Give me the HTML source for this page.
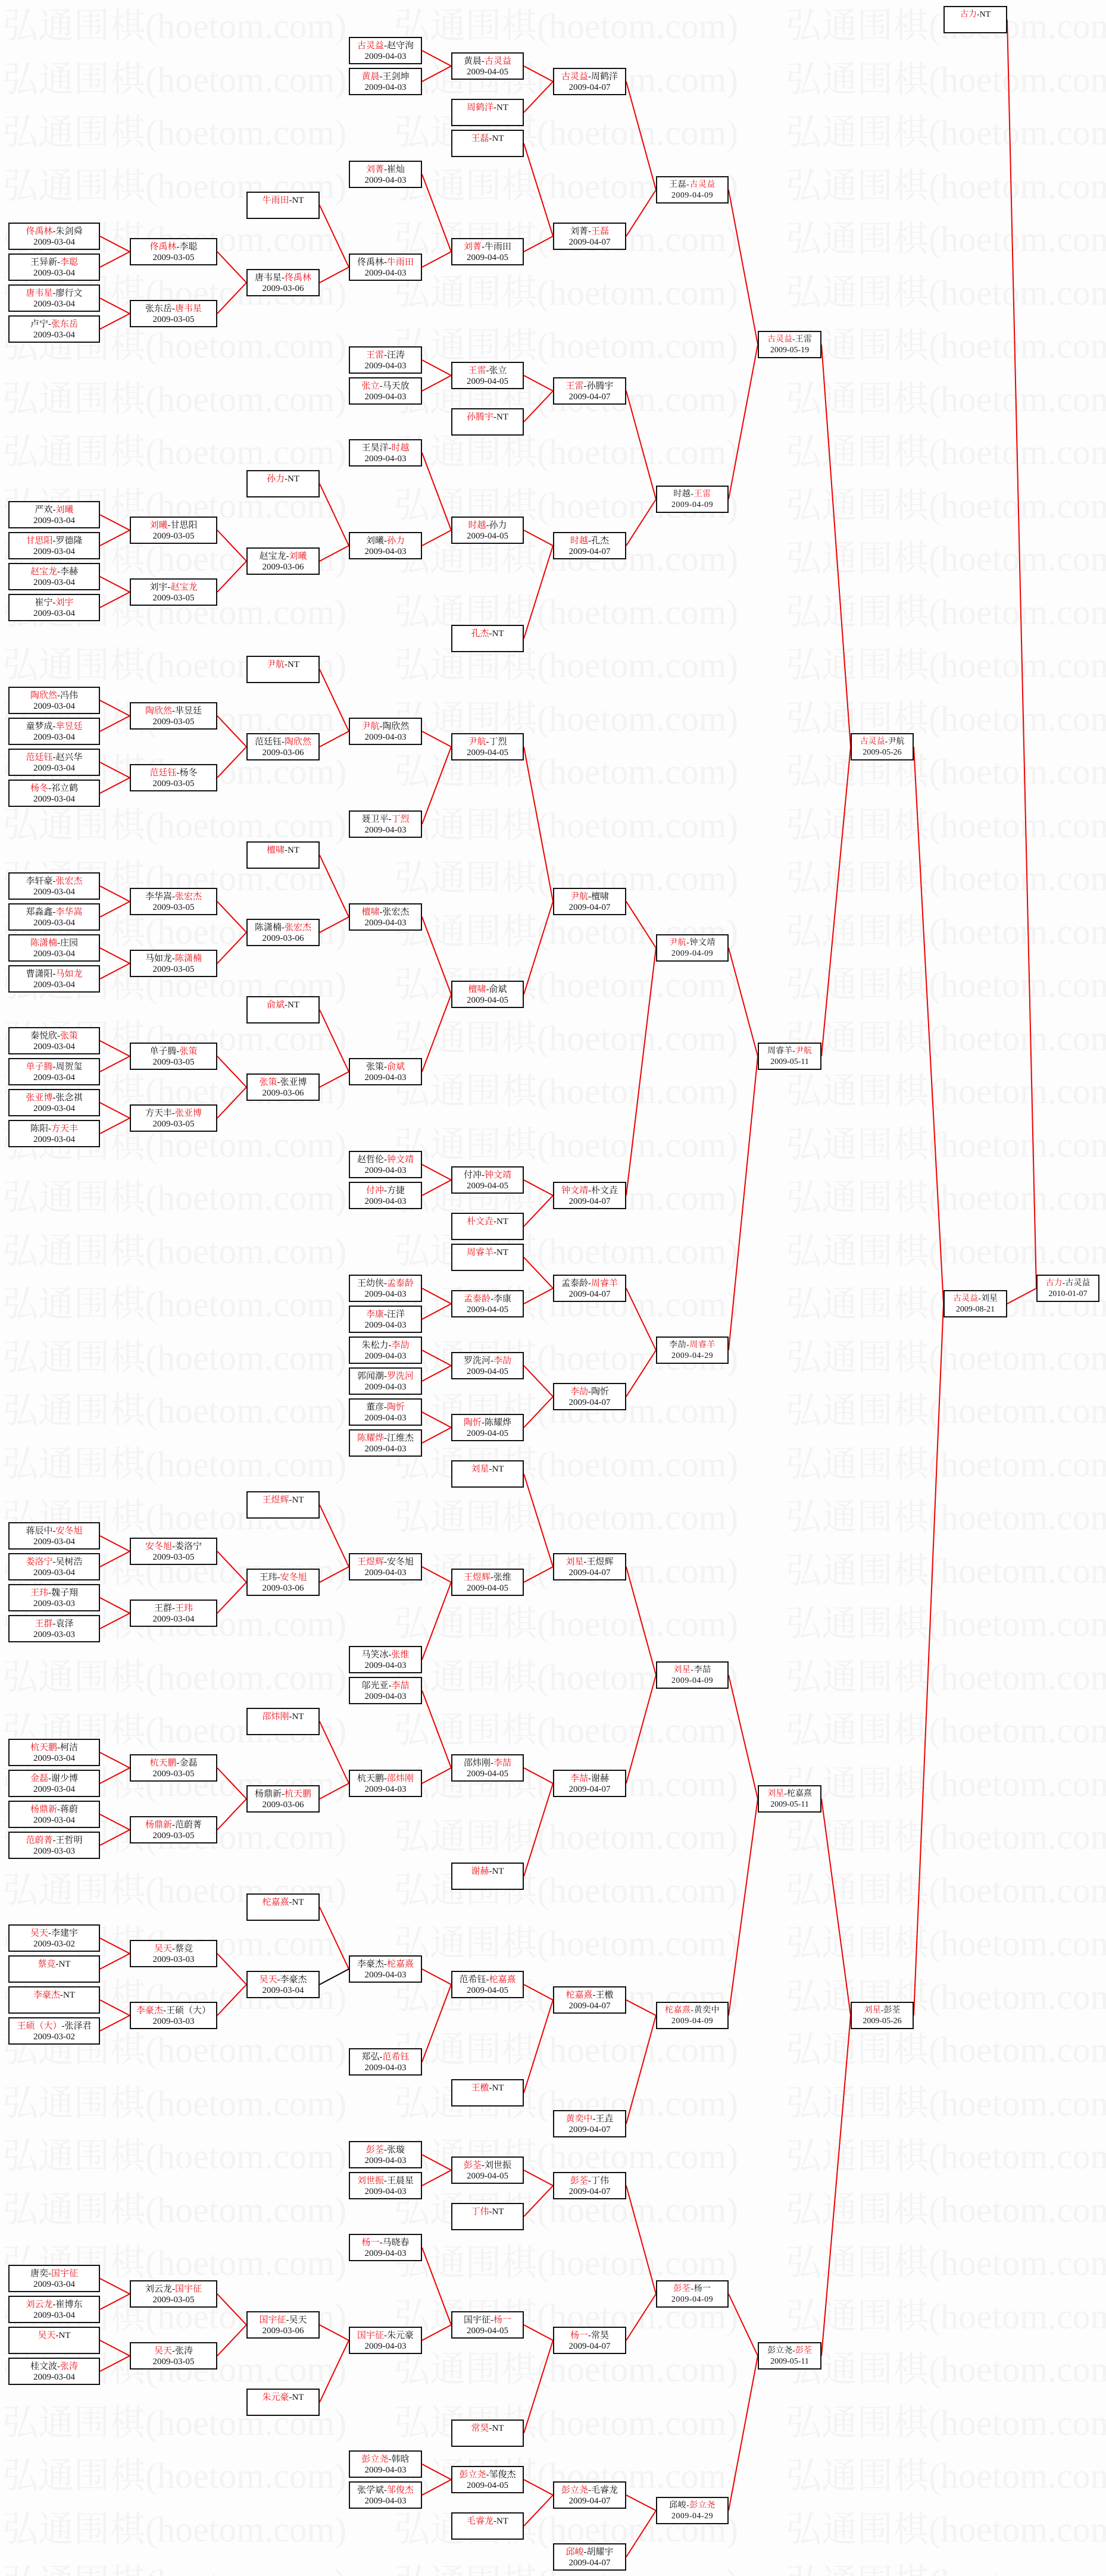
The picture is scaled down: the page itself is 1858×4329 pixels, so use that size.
<!DOCTYPE html>
<html><head><meta charset="utf-8">
<style>
html,body{margin:0;padding:0;}
body{width:1858px;height:4329px;position:relative;background:#fdfdfd;overflow:hidden;font-family:"Liberation Serif","Noto Serif CJK SC",serif;}
.wm{position:absolute;left:0;top:0;width:1858px;height:4329px;overflow:hidden;color:#f3f3f3;font-family:"Liberation Serif","Noto Serif CJK SC",serif;font-size:60px;line-height:89.5px;white-space:nowrap;}
.wm div{height:89.5px;margin-left:4px}
.wm span{display:inline-block;width:658px}
svg{position:absolute;left:0;top:0}
.b{position:absolute;height:46px;top:calc(62px + var(--k)*26px);border:2px solid #111;background:#fff;box-sizing:border-box;text-align:center;font-size:15px;line-height:18px;padding-top:4px;color:#111;white-space:nowrap;overflow:hidden;}
.r{color:#e8141c}
.c0{left:14px;width:154px}.c1{left:218px;width:147px}.c2{left:414px;width:123px}.c3{left:586px;width:123px}.c4{left:758px;width:122px}.c5{left:929px;width:123px}.c6{left:1102px;width:122px;font-size:14px;letter-spacing:.5px}.c7{left:1273px;width:107px;font-size:14px}.c8{left:1429px;width:106px;font-size:14px}.c9{left:1585px;width:107px;font-size:14px}.c10{left:1741px;width:106px;font-size:14px}
</style></head><body>
<div class="wm">
<div><span>弘通围棋(hoetom.com)</span><span>弘通围棋(hoetom.com)</span><span>弘通围棋(hoetom.com)</span></div>
<div><span>弘通围棋(hoetom.com)</span><span>弘通围棋(hoetom.com)</span><span>弘通围棋(hoetom.com)</span></div>
<div><span>弘通围棋(hoetom.com)</span><span>弘通围棋(hoetom.com)</span><span>弘通围棋(hoetom.com)</span></div>
<div><span>弘通围棋(hoetom.com)</span><span>弘通围棋(hoetom.com)</span><span>弘通围棋(hoetom.com)</span></div>
<div><span>弘通围棋(hoetom.com)</span><span>弘通围棋(hoetom.com)</span><span>弘通围棋(hoetom.com)</span></div>
<div><span>弘通围棋(hoetom.com)</span><span>弘通围棋(hoetom.com)</span><span>弘通围棋(hoetom.com)</span></div>
<div><span>弘通围棋(hoetom.com)</span><span>弘通围棋(hoetom.com)</span><span>弘通围棋(hoetom.com)</span></div>
<div><span>弘通围棋(hoetom.com)</span><span>弘通围棋(hoetom.com)</span><span>弘通围棋(hoetom.com)</span></div>
<div><span>弘通围棋(hoetom.com)</span><span>弘通围棋(hoetom.com)</span><span>弘通围棋(hoetom.com)</span></div>
<div><span>弘通围棋(hoetom.com)</span><span>弘通围棋(hoetom.com)</span><span>弘通围棋(hoetom.com)</span></div>
<div><span>弘通围棋(hoetom.com)</span><span>弘通围棋(hoetom.com)</span><span>弘通围棋(hoetom.com)</span></div>
<div><span>弘通围棋(hoetom.com)</span><span>弘通围棋(hoetom.com)</span><span>弘通围棋(hoetom.com)</span></div>
<div><span>弘通围棋(hoetom.com)</span><span>弘通围棋(hoetom.com)</span><span>弘通围棋(hoetom.com)</span></div>
<div><span>弘通围棋(hoetom.com)</span><span>弘通围棋(hoetom.com)</span><span>弘通围棋(hoetom.com)</span></div>
<div><span>弘通围棋(hoetom.com)</span><span>弘通围棋(hoetom.com)</span><span>弘通围棋(hoetom.com)</span></div>
<div><span>弘通围棋(hoetom.com)</span><span>弘通围棋(hoetom.com)</span><span>弘通围棋(hoetom.com)</span></div>
<div><span>弘通围棋(hoetom.com)</span><span>弘通围棋(hoetom.com)</span><span>弘通围棋(hoetom.com)</span></div>
<div><span>弘通围棋(hoetom.com)</span><span>弘通围棋(hoetom.com)</span><span>弘通围棋(hoetom.com)</span></div>
<div><span>弘通围棋(hoetom.com)</span><span>弘通围棋(hoetom.com)</span><span>弘通围棋(hoetom.com)</span></div>
<div><span>弘通围棋(hoetom.com)</span><span>弘通围棋(hoetom.com)</span><span>弘通围棋(hoetom.com)</span></div>
<div><span>弘通围棋(hoetom.com)</span><span>弘通围棋(hoetom.com)</span><span>弘通围棋(hoetom.com)</span></div>
<div><span>弘通围棋(hoetom.com)</span><span>弘通围棋(hoetom.com)</span><span>弘通围棋(hoetom.com)</span></div>
<div><span>弘通围棋(hoetom.com)</span><span>弘通围棋(hoetom.com)</span><span>弘通围棋(hoetom.com)</span></div>
<div><span>弘通围棋(hoetom.com)</span><span>弘通围棋(hoetom.com)</span><span>弘通围棋(hoetom.com)</span></div>
<div><span>弘通围棋(hoetom.com)</span><span>弘通围棋(hoetom.com)</span><span>弘通围棋(hoetom.com)</span></div>
<div><span>弘通围棋(hoetom.com)</span><span>弘通围棋(hoetom.com)</span><span>弘通围棋(hoetom.com)</span></div>
<div><span>弘通围棋(hoetom.com)</span><span>弘通围棋(hoetom.com)</span><span>弘通围棋(hoetom.com)</span></div>
<div><span>弘通围棋(hoetom.com)</span><span>弘通围棋(hoetom.com)</span><span>弘通围棋(hoetom.com)</span></div>
<div><span>弘通围棋(hoetom.com)</span><span>弘通围棋(hoetom.com)</span><span>弘通围棋(hoetom.com)</span></div>
<div><span>弘通围棋(hoetom.com)</span><span>弘通围棋(hoetom.com)</span><span>弘通围棋(hoetom.com)</span></div>
<div><span>弘通围棋(hoetom.com)</span><span>弘通围棋(hoetom.com)</span><span>弘通围棋(hoetom.com)</span></div>
<div><span>弘通围棋(hoetom.com)</span><span>弘通围棋(hoetom.com)</span><span>弘通围棋(hoetom.com)</span></div>
<div><span>弘通围棋(hoetom.com)</span><span>弘通围棋(hoetom.com)</span><span>弘通围棋(hoetom.com)</span></div>
<div><span>弘通围棋(hoetom.com)</span><span>弘通围棋(hoetom.com)</span><span>弘通围棋(hoetom.com)</span></div>
<div><span>弘通围棋(hoetom.com)</span><span>弘通围棋(hoetom.com)</span><span>弘通围棋(hoetom.com)</span></div>
<div><span>弘通围棋(hoetom.com)</span><span>弘通围棋(hoetom.com)</span><span>弘通围棋(hoetom.com)</span></div>
<div><span>弘通围棋(hoetom.com)</span><span>弘通围棋(hoetom.com)</span><span>弘通围棋(hoetom.com)</span></div>
<div><span>弘通围棋(hoetom.com)</span><span>弘通围棋(hoetom.com)</span><span>弘通围棋(hoetom.com)</span></div>
<div><span>弘通围棋(hoetom.com)</span><span>弘通围棋(hoetom.com)</span><span>弘通围棋(hoetom.com)</span></div>
<div><span>弘通围棋(hoetom.com)</span><span>弘通围棋(hoetom.com)</span><span>弘通围棋(hoetom.com)</span></div>
<div><span>弘通围棋(hoetom.com)</span><span>弘通围棋(hoetom.com)</span><span>弘通围棋(hoetom.com)</span></div>
<div><span>弘通围棋(hoetom.com)</span><span>弘通围棋(hoetom.com)</span><span>弘通围棋(hoetom.com)</span></div>
<div><span>弘通围棋(hoetom.com)</span><span>弘通围棋(hoetom.com)</span><span>弘通围棋(hoetom.com)</span></div>
<div><span>弘通围棋(hoetom.com)</span><span>弘通围棋(hoetom.com)</span><span>弘通围棋(hoetom.com)</span></div>
<div><span>弘通围棋(hoetom.com)</span><span>弘通围棋(hoetom.com)</span><span>弘通围棋(hoetom.com)</span></div>
<div><span>弘通围棋(hoetom.com)</span><span>弘通围棋(hoetom.com)</span><span>弘通围棋(hoetom.com)</span></div>
<div><span>弘通围棋(hoetom.com)</span><span>弘通围棋(hoetom.com)</span><span>弘通围棋(hoetom.com)</span></div>
<div><span>弘通围棋(hoetom.com)</span><span>弘通围棋(hoetom.com)</span><span>弘通围棋(hoetom.com)</span></div>
<div><span>弘通围棋(hoetom.com)</span><span>弘通围棋(hoetom.com)</span><span>弘通围棋(hoetom.com)</span></div>
</div>

<svg id="lines" width="1858" height="4329"></svg>

<!-- col0 -->
<div class="b c0" style="--k:12"><span class="r">佟禹林</span>-朱剑舜<br>2009-03-04</div>
<div class="b c0" style="--k:14">王异新-<span class="r">李聪</span><br>2009-03-04</div>
<div class="b c0" style="--k:16"><span class="r">唐韦星</span>-廖行文<br>2009-03-04</div>
<div class="b c0" style="--k:18">卢宁-<span class="r">张东岳</span><br>2009-03-04</div>
<div class="b c0" style="--k:30">严欢-<span class="r">刘曦</span><br>2009-03-04</div>
<div class="b c0" style="--k:32"><span class="r">甘思阳</span>-罗德隆<br>2009-03-04</div>
<div class="b c0" style="--k:34"><span class="r">赵宝龙</span>-李赫<br>2009-03-04</div>
<div class="b c0" style="--k:36">崔宁-<span class="r">刘宇</span><br>2009-03-04</div>
<div class="b c0" style="--k:42"><span class="r">陶欣然</span>-冯伟<br>2009-03-04</div>
<div class="b c0" style="--k:44">童梦成-<span class="r">芈昱廷</span><br>2009-03-04</div>
<div class="b c0" style="--k:46"><span class="r">范廷钰</span>-赵兴华<br>2009-03-04</div>
<div class="b c0" style="--k:48"><span class="r">杨冬</span>-祁立鹤<br>2009-03-04</div>
<div class="b c0" style="--k:54">李轩豪-<span class="r">张宏杰</span><br>2009-03-04</div>
<div class="b c0" style="--k:56">郑淼鑫-<span class="r">李华嵩</span><br>2009-03-04</div>
<div class="b c0" style="--k:58"><span class="r">陈潇楠</span>-庄园<br>2009-03-04</div>
<div class="b c0" style="--k:60">曹潇阳-<span class="r">马如龙</span><br>2009-03-04</div>
<div class="b c0" style="--k:64">秦悦欣-<span class="r">张策</span><br>2009-03-04</div>
<div class="b c0" style="--k:66"><span class="r">单子腾</span>-周贺玺<br>2009-03-04</div>
<div class="b c0" style="--k:68"><span class="r">张亚博</span>-张念祺<br>2009-03-04</div>
<div class="b c0" style="--k:70">陈阳-<span class="r">方天丰</span><br>2009-03-04</div>
<div class="b c0" style="--k:96">蒋辰中-<span class="r">安冬旭</span><br>2009-03-04</div>
<div class="b c0" style="--k:98"><span class="r">娄洛宁</span>-吴树浩<br>2009-03-04</div>
<div class="b c0" style="--k:100"><span class="r">王玮</span>-魏子翔<br>2009-03-03</div>
<div class="b c0" style="--k:102"><span class="r">王群</span>-袁泽<br>2009-03-03</div>
<div class="b c0" style="--k:110"><span class="r">杭天鹏</span>-柯洁<br>2009-03-04</div>
<div class="b c0" style="--k:112"><span class="r">金磊</span>-谢少博<br>2009-03-04</div>
<div class="b c0" style="--k:114"><span class="r">杨鼎新</span>-蒋蔚<br>2009-03-04</div>
<div class="b c0" style="--k:116"><span class="r">范蔚菁</span>-王哲明<br>2009-03-03</div>
<div class="b c0" style="--k:122"><span class="r">吴天</span>-李建宇<br>2009-03-02</div>
<div class="b c0" style="--k:124"><span class="r">蔡竞</span>-NT</div>
<div class="b c0" style="--k:126"><span class="r">李豪杰</span>-NT</div>
<div class="b c0" style="--k:128"><span class="r">王硕（大）</span>-张泽君<br>2009-03-02</div>
<div class="b c0" style="--k:144">唐奕-<span class="r">国宇征</span><br>2009-03-04</div>
<div class="b c0" style="--k:146"><span class="r">刘云龙</span>-崔博东<br>2009-03-04</div>
<div class="b c0" style="--k:148"><span class="r">吴天</span>-NT</div>
<div class="b c0" style="--k:150">桂文波-<span class="r">张涛</span><br>2009-03-04</div>

<!-- col1 -->
<div class="b c1" style="--k:13"><span class="r">佟禹林</span>-李聪<br>2009-03-05</div>
<div class="b c1" style="--k:17">张东岳-<span class="r">唐韦星</span><br>2009-03-05</div>
<div class="b c1" style="--k:31"><span class="r">刘曦</span>-甘思阳<br>2009-03-05</div>
<div class="b c1" style="--k:35">刘宇-<span class="r">赵宝龙</span><br>2009-03-05</div>
<div class="b c1" style="--k:43"><span class="r">陶欣然</span>-芈昱廷<br>2009-03-05</div>
<div class="b c1" style="--k:47"><span class="r">范廷钰</span>-杨冬<br>2009-03-05</div>
<div class="b c1" style="--k:55">李华嵩-<span class="r">张宏杰</span><br>2009-03-05</div>
<div class="b c1" style="--k:59">马如龙-<span class="r">陈潇楠</span><br>2009-03-05</div>
<div class="b c1" style="--k:65">单子腾-<span class="r">张策</span><br>2009-03-05</div>
<div class="b c1" style="--k:69">方天丰-<span class="r">张亚博</span><br>2009-03-05</div>
<div class="b c1" style="--k:97"><span class="r">安冬旭</span>-娄洛宁<br>2009-03-05</div>
<div class="b c1" style="--k:101">王群-<span class="r">王玮</span><br>2009-03-04</div>
<div class="b c1" style="--k:111"><span class="r">杭天鹏</span>-金磊<br>2009-03-05</div>
<div class="b c1" style="--k:115"><span class="r">杨鼎新</span>-范蔚菁<br>2009-03-05</div>
<div class="b c1" style="--k:123"><span class="r">吴天</span>-蔡竞<br>2009-03-03</div>
<div class="b c1" style="--k:127"><span class="r">李豪杰</span>-王硕（大）<br>2009-03-03</div>
<div class="b c1" style="--k:145">刘云龙-<span class="r">国宇征</span><br>2009-03-05</div>
<div class="b c1" style="--k:149"><span class="r">吴天</span>-张涛<br>2009-03-05</div>

<!-- col2 -->
<div class="b c2" style="--k:10"><span class="r">牛雨田</span>-NT</div>
<div class="b c2" style="--k:15">唐韦星-<span class="r">佟禹林</span><br>2009-03-06</div>
<div class="b c2" style="--k:28"><span class="r">孙力</span>-NT</div>
<div class="b c2" style="--k:33">赵宝龙-<span class="r">刘曦</span><br>2009-03-06</div>
<div class="b c2" style="--k:40"><span class="r">尹航</span>-NT</div>
<div class="b c2" style="--k:45">范廷钰-<span class="r">陶欣然</span><br>2009-03-06</div>
<div class="b c2" style="--k:52"><span class="r">檀啸</span>-NT</div>
<div class="b c2" style="--k:57">陈潇楠-<span class="r">张宏杰</span><br>2009-03-06</div>
<div class="b c2" style="--k:62"><span class="r">俞斌</span>-NT</div>
<div class="b c2" style="--k:67"><span class="r">张策</span>-张亚博<br>2009-03-06</div>
<div class="b c2" style="--k:94"><span class="r">王煜辉</span>-NT</div>
<div class="b c2" style="--k:99">王玮-<span class="r">安冬旭</span><br>2009-03-06</div>
<div class="b c2" style="--k:108"><span class="r">邵炜刚</span>-NT</div>
<div class="b c2" style="--k:113">杨鼎新-<span class="r">杭天鹏</span><br>2009-03-06</div>
<div class="b c2" style="--k:120"><span class="r">柁嘉熹</span>-NT</div>
<div class="b c2" style="--k:125"><span class="r">吴天</span>-李豪杰<br>2009-03-04</div>
<div class="b c2" style="--k:147"><span class="r">国宇征</span>-吴天<br>2009-03-06</div>
<div class="b c2" style="--k:152"><span class="r">朱元豪</span>-NT</div>

<!-- col3 -->
<div class="b c3" style="--k:0"><span class="r">古灵益</span>-赵守洵<br>2009-04-03</div>
<div class="b c3" style="--k:2"><span class="r">黄晨</span>-王剑坤<br>2009-04-03</div>
<div class="b c3" style="--k:8"><span class="r">刘菁</span>-崔灿<br>2009-04-03</div>
<div class="b c3" style="--k:14">佟禹林-<span class="r">牛雨田</span><br>2009-04-03</div>
<div class="b c3" style="--k:20"><span class="r">王雷</span>-汪涛<br>2009-04-03</div>
<div class="b c3" style="--k:22"><span class="r">张立</span>-马天放<br>2009-04-03</div>
<div class="b c3" style="--k:26">王昊洋-<span class="r">时越</span><br>2009-04-03</div>
<div class="b c3" style="--k:32">刘曦-<span class="r">孙力</span><br>2009-04-03</div>
<div class="b c3" style="--k:44"><span class="r">尹航</span>-陶欣然<br>2009-04-03</div>
<div class="b c3" style="--k:50">聂卫平-<span class="r">丁烈</span><br>2009-04-03</div>
<div class="b c3" style="--k:56"><span class="r">檀啸</span>-张宏杰<br>2009-04-03</div>
<div class="b c3" style="--k:66">张策-<span class="r">俞斌</span><br>2009-04-03</div>
<div class="b c3" style="--k:72">赵哲伦-<span class="r">钟文靖</span><br>2009-04-03</div>
<div class="b c3" style="--k:74"><span class="r">付冲</span>-方捷<br>2009-04-03</div>
<div class="b c3" style="--k:80">王幼侠-<span class="r">孟泰龄</span><br>2009-04-03</div>
<div class="b c3" style="--k:82"><span class="r">李康</span>-汪洋<br>2009-04-03</div>
<div class="b c3" style="--k:84">朱松力-<span class="r">李劼</span><br>2009-04-03</div>
<div class="b c3" style="--k:86">郭闻潮-<span class="r">罗洗河</span><br>2009-04-03</div>
<div class="b c3" style="--k:88">董彦-<span class="r">陶忻</span><br>2009-04-03</div>
<div class="b c3" style="--k:90"><span class="r">陈耀烨</span>-江维杰<br>2009-04-03</div>
<div class="b c3" style="--k:98"><span class="r">王煜辉</span>-安冬旭<br>2009-04-03</div>
<div class="b c3" style="--k:104">马笑冰-<span class="r">张维</span><br>2009-04-03</div>
<div class="b c3" style="--k:106">邬光亚-<span class="r">李喆</span><br>2009-04-03</div>
<div class="b c3" style="--k:112">杭天鹏-<span class="r">邵炜刚</span><br>2009-04-03</div>
<div class="b c3" style="--k:124">李豪杰-<span class="r">柁嘉熹</span><br>2009-04-03</div>
<div class="b c3" style="--k:130">郑弘-<span class="r">范希钰</span><br>2009-04-03</div>
<div class="b c3" style="--k:136"><span class="r">彭荃</span>-张璇<br>2009-04-03</div>
<div class="b c3" style="--k:138"><span class="r">刘世振</span>-王晨星<br>2009-04-03</div>
<div class="b c3" style="--k:142"><span class="r">杨一</span>-马晓春<br>2009-04-03</div>
<div class="b c3" style="--k:148"><span class="r">国宇征</span>-朱元豪<br>2009-04-03</div>
<div class="b c3" style="--k:156"><span class="r">彭立尧</span>-韩晗<br>2009-04-03</div>
<div class="b c3" style="--k:158">张学斌-<span class="r">邹俊杰</span><br>2009-04-03</div>

<!-- col4 -->
<div class="b c4" style="--k:1">黄晨-<span class="r">古灵益</span><br>2009-04-05</div>
<div class="b c4" style="--k:4"><span class="r">周鹤洋</span>-NT</div>
<div class="b c4" style="--k:6"><span class="r">王磊</span>-NT</div>
<div class="b c4" style="--k:13"><span class="r">刘菁</span>-牛雨田<br>2009-04-05</div>
<div class="b c4" style="--k:21"><span class="r">王雷</span>-张立<br>2009-04-05</div>
<div class="b c4" style="--k:24"><span class="r">孙腾宇</span>-NT</div>
<div class="b c4" style="--k:31"><span class="r">时越</span>-孙力<br>2009-04-05</div>
<div class="b c4" style="--k:38"><span class="r">孔杰</span>-NT</div>
<div class="b c4" style="--k:45"><span class="r">尹航</span>-丁烈<br>2009-04-05</div>
<div class="b c4" style="--k:61"><span class="r">檀啸</span>-俞斌<br>2009-04-05</div>
<div class="b c4" style="--k:73">付冲-<span class="r">钟文靖</span><br>2009-04-05</div>
<div class="b c4" style="--k:76"><span class="r">朴文垚</span>-NT</div>
<div class="b c4" style="--k:78"><span class="r">周睿羊</span>-NT</div>
<div class="b c4" style="--k:81"><span class="r">孟泰龄</span>-李康<br>2009-04-05</div>
<div class="b c4" style="--k:85">罗洗河-<span class="r">李劼</span><br>2009-04-05</div>
<div class="b c4" style="--k:89"><span class="r">陶忻</span>-陈耀烨<br>2009-04-05</div>
<div class="b c4" style="--k:92"><span class="r">刘星</span>-NT</div>
<div class="b c4" style="--k:99"><span class="r">王煜辉</span>-张维<br>2009-04-05</div>
<div class="b c4" style="--k:111">邵炜刚-<span class="r">李喆</span><br>2009-04-05</div>
<div class="b c4" style="--k:118"><span class="r">谢赫</span>-NT</div>
<div class="b c4" style="--k:125">范希钰-<span class="r">柁嘉熹</span><br>2009-04-05</div>
<div class="b c4" style="--k:132"><span class="r">王檄</span>-NT</div>
<div class="b c4" style="--k:137"><span class="r">彭荃</span>-刘世振<br>2009-04-05</div>
<div class="b c4" style="--k:140"><span class="r">丁伟</span>-NT</div>
<div class="b c4" style="--k:147">国宇征-<span class="r">杨一</span><br>2009-04-05</div>
<div class="b c4" style="--k:154"><span class="r">常昊</span>-NT</div>
<div class="b c4" style="--k:157"><span class="r">彭立尧</span>-邹俊杰<br>2009-04-05</div>
<div class="b c4" style="--k:160"><span class="r">毛睿龙</span>-NT</div>

<!-- col5 -->
<div class="b c5" style="--k:2"><span class="r">古灵益</span>-周鹤洋<br>2009-04-07</div>
<div class="b c5" style="--k:12">刘菁-<span class="r">王磊</span><br>2009-04-07</div>
<div class="b c5" style="--k:22"><span class="r">王雷</span>-孙腾宇<br>2009-04-07</div>
<div class="b c5" style="--k:32"><span class="r">时越</span>-孔杰<br>2009-04-07</div>
<div class="b c5" style="--k:55"><span class="r">尹航</span>-檀啸<br>2009-04-07</div>
<div class="b c5" style="--k:74"><span class="r">钟文靖</span>-朴文垚<br>2009-04-07</div>
<div class="b c5" style="--k:80">孟泰龄-<span class="r">周睿羊</span><br>2009-04-07</div>
<div class="b c5" style="--k:87"><span class="r">李劼</span>-陶忻<br>2009-04-07</div>
<div class="b c5" style="--k:98"><span class="r">刘星</span>-王煜辉<br>2009-04-07</div>
<div class="b c5" style="--k:112"><span class="r">李喆</span>-谢赫<br>2009-04-07</div>
<div class="b c5" style="--k:126"><span class="r">柁嘉熹</span>-王檄<br>2009-04-07</div>
<div class="b c5" style="--k:134"><span class="r">黄奕中</span>-王垚<br>2009-04-07</div>
<div class="b c5" style="--k:138"><span class="r">彭荃</span>-丁伟<br>2009-04-07</div>
<div class="b c5" style="--k:148"><span class="r">杨一</span>-常昊<br>2009-04-07</div>
<div class="b c5" style="--k:158"><span class="r">彭立尧</span>-毛睿龙<br>2009-04-07</div>
<div class="b c5" style="--k:162"><span class="r">邱峻</span>-胡耀宇<br>2009-04-07</div>

<!-- col6 -->
<div class="b c6" style="--k:9">王磊-<span class="r">古灵益</span><br>2009-04-09</div>
<div class="b c6" style="--k:29">时越-<span class="r">王雷</span><br>2009-04-09</div>
<div class="b c6" style="--k:58"><span class="r">尹航</span>-钟文靖<br>2009-04-09</div>
<div class="b c6" style="--k:84">李劼-<span class="r">周睿羊</span><br>2009-04-29</div>
<div class="b c6" style="--k:105"><span class="r">刘星</span>-李喆<br>2009-04-09</div>
<div class="b c6" style="--k:127"><span class="r">柁嘉熹</span>-黄奕中<br>2009-04-09</div>
<div class="b c6" style="--k:145"><span class="r">彭荃</span>-杨一<br>2009-04-09</div>
<div class="b c6" style="--k:159">邱峻-<span class="r">彭立尧</span><br>2009-04-29</div>

<!-- col7 -->
<div class="b c7" style="--k:19"><span class="r">古灵益</span>-王雷<br>2009-05-19</div>
<div class="b c7" style="--k:65">周睿羊-<span class="r">尹航</span><br>2009-05-11</div>
<div class="b c7" style="--k:113"><span class="r">刘星</span>-柁嘉熹<br>2009-05-11</div>
<div class="b c7" style="--k:149">彭立尧-<span class="r">彭荃</span><br>2009-05-11</div>

<!-- col8 -->
<div class="b c8" style="--k:45"><span class="r">古灵益</span>-尹航<br>2009-05-26</div>
<div class="b c8" style="--k:127"><span class="r">刘星</span>-彭荃<br>2009-05-26</div>

<!-- col9 -->
<div class="b c9" style="--k:-2"><span class="r">古力</span>-NT</div>
<div class="b c9" style="--k:81"><span class="r">古灵益</span>-刘星<br>2009-08-21</div>

<!-- col10 -->
<div class="b c10" style="--k:80"><span class="r">古力</span>-古灵益<br>2010-01-07</div>

<script>
(function(){
var X=[[14,168],[218,365],[414,537],[586,709],[758,880],[929,1052],[1102,1224],[1273,1380],[1429,1535],[1585,1692],[1741,1847]];
function m(k){return 62+26*k+23;}
var C=[
[0,[12,14],13],[0,[16,18],17],[0,[30,32],31],[0,[34,36],35],[0,[42,44],43],[0,[46,48],47],[0,[54,56],55],[0,[58,60],59],[0,[64,66],65],[0,[68,70],69],[0,[96,98],97],[0,[100,102],101],[0,[110,112],111],[0,[114,116],115],[0,[122,124],123],[0,[126,128],127],[0,[144,146],145],[0,[148,150],149],
[1,[13,17],15],[1,[31,35],33],[1,[43,47],45],[1,[55,59],57],[1,[65,69],67],[1,[97,101],99],[1,[111,115],113],[1,[123,127],125],[1,[145,149],147],
[2,[10,15],14],[2,[28,33],32],[2,[40,45],44],[2,[52,57],56],[2,[62,67],66],[2,[94,99],98],[2,[108,113],112],[2,[120],124],[2,[147,152],148],
[3,[0,2],1],[3,[8,14],13],[3,[20,22],21],[3,[26,32],31],[3,[44,50],45],[3,[56,66],61],[3,[72,74],73],[3,[80,82],81],[3,[84,86],85],[3,[88,90],89],[3,[98,104],99],[3,[106,112],111],[3,[124,130],125],[3,[136,138],137],[3,[142,148],147],[3,[156,158],157],
[4,[1,4],2],[4,[6,13],12],[4,[21,24],22],[4,[31,38],32],[4,[45,61],55],[4,[73,76],74],[4,[78,81],80],[4,[85,89],87],[4,[92,99],98],[4,[111,118],112],[4,[125,132],126],[4,[137,140],138],[4,[147,154],148],[4,[157,160],158],
[5,[2,12],9],[5,[22,32],29],[5,[55,74],58],[5,[80,87],84],[5,[98,112],105],[5,[126,134],127],[5,[138,148],145],[5,[158,162],159],
[6,[9,29],19],[6,[58,84],65],[6,[105,127],113],[6,[145,159],149],
[7,[19,65],45],[7,[113,149],127],
[8,[45,127],81],
[9,[-2,81],80]
];
var s='';
function ln(x1,y1,x2,y2,c){s+='<line x1="'+x1+'" y1="'+y1+'" x2="'+x2+'" y2="'+y2+'" stroke="'+c+'" stroke-width="2"/>';}
C.forEach(function(e){var c=e[0];e[1].forEach(function(k){ln(X[c][1],m(k),X[c+1][0],m(e[2]),'#ee0000');});});
ln(X[2][1],m(125),X[3][0],m(124),'#000');
document.getElementById('lines').innerHTML=s;
})();
</script>
</body></html>
